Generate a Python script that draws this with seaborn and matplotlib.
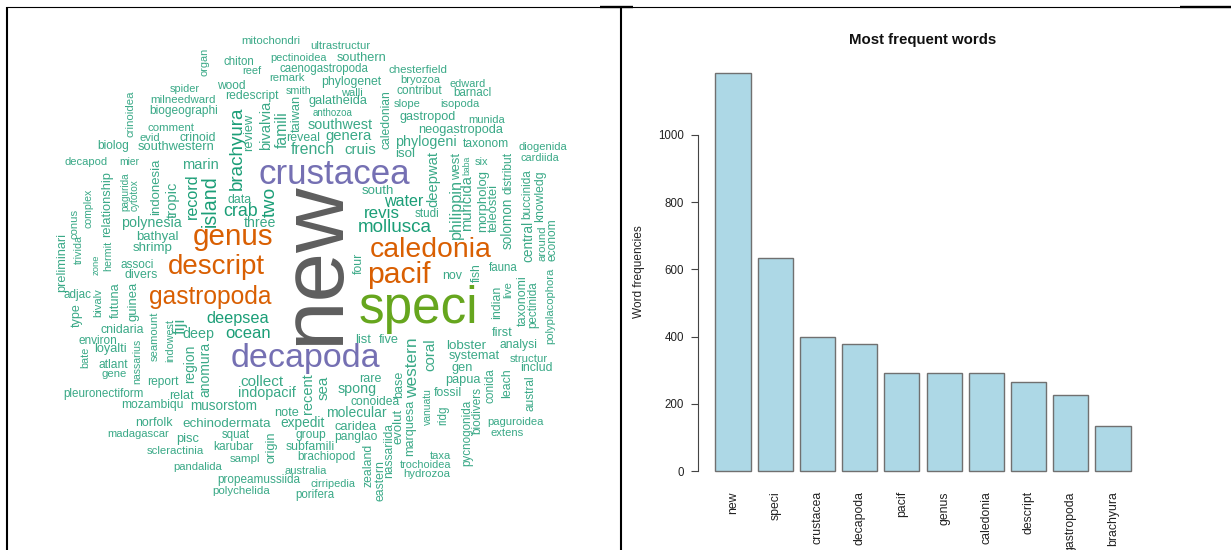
# Word cloud and bar chart of the most frequent words in the titles.

import matplotlib
matplotlib.use('Agg')
import matplotlib.pyplot as plt
from matplotlib.lines import Line2D
from matplotlib.textpath import TextPath
from matplotlib.font_manager import FontProperties
import seaborn as sns
import pandas as pd

# Ten most frequent words (bar chart).
bar_words = ['new', 'speci', 'crustacea', 'decapoda', 'pacif', 'genus',
             'caledonia', 'descript', 'gastropoda', 'brachyura']
bar_freqs = [1185, 633, 398, 378, 293, 292, 291, 265, 226, 134]

# Second tier of the cloud (darker teal).
medium_words = ['brachyura', 'record', 'island', 'crab', 'two', 'water',
                'revis', 'mollusca', 'deepsea', 'ocean']

# Word cloud layout: word, centre x, centre y (pixels), ink length, rotation.
cloud_layout = [
    ('mitochondri', 271, 41, 66, 0), ('ultrastructur', 340, 46, 67, 0),
    ('organ', 204, 62, 26, 90), ('chiton', 239, 62, 34, 0),
    ('pectinoidea', 299, 58, 64, 0), ('southern', 362, 58, 56, 0),
    ('reef', 252, 71, 21, 0), ('caenogastropoda', 324, 69, 102, 0),
    ('chesterfield', 418, 70, 66, 0), ('remark', 287, 78, 40, 0),
    ('phylogenet', 351, 82, 68, 0), ('bryozoa', 420, 80, 45, 0),
    ('edward', 468, 84, 40, 0), ('spider', 185, 89, 34, 0),
    ('wood', 231, 86, 32, 0), ('smith', 299, 91, 28, 0),
    ('walli', 352, 93, 24, 0), ('contribut', 419, 91, 52, 0),
    ('barnacl', 472, 93, 42, 0), ('crinoidea', 130, 114, 44, 90),
    ('milneedward', 183, 100, 73, 0), ('redescript', 252, 96, 60, 0),
    ('galatheida', 338, 101, 67, 0), ('caledonian', 386, 120, 55, 90),
    ('slope', 407, 104, 30, 0), ('isopoda', 460, 104, 44, 0),
    ('taiwan', 297, 113, 35, 90), ('biogeographi', 184, 111, 77, 0),
    ('brachyura', 237, 148, 79, 90), ('review', 249, 132, 35, 90),
    ('bivalvia', 266, 125, 46, 90), ('famili', 282, 130, 34, 90),
    ('anthozoa', 333, 113, 46, 0), ('southwest', 340, 125, 74, 0),
    ('gastropod', 428, 117, 63, 0), ('munida', 487, 120, 41, 0),
    ('comment', 171, 128, 53, 0), ('neogastropoda', 461, 130, 97, 0),
    ('evid', 150, 138, 22, 0), ('crinoid', 198, 138, 40, 0),
    ('reveal', 303, 138, 37, 0), ('genera', 349, 136, 52, 0),
    ('phylogeni', 426, 142, 68, 0), ('taxonom', 486, 144, 52, 0),
    ('diogenida', 543, 147, 55, 0), ('biolog', 113, 146, 35, 0),
    ('southwestern', 176, 147, 87, 0), ('french', 313, 150, 49, 0),
    ('cruis', 360, 150, 35, 0), ('isol', 405, 154, 21, 0),
    ('decapod', 86, 162, 48, 0), ('mier', 129, 162, 22, 0),
    ('marin', 200, 165, 40, 0), ('deepwat', 433, 179, 53, 90),
    ('west', 457, 166, 26, 90), ('philippin', 456, 209, 55, 90),
    ('baba', 467, 165, 18, 90), ('muricida', 467, 203, 52, 90),
    ('six', 481, 162, 15, 0), ('morpholog', 483, 201, 58, 90),
    ('teleostei', 494, 208, 45, 90), ('distribut', 508, 173, 40, 90),
    ('cardiida', 540, 158, 44, 0), ('solomon', 508, 223, 48, 90),
    ('buccinida', 527, 194, 47, 90), ('knowledg', 540, 196, 48, 90),
    ('central', 528, 241, 38, 90), ('around', 543, 243, 33, 90),
    ('econom', 553, 240, 40, 90), ('crustacea', 334, 174, 172, 0),
    ('indonesia', 156, 187, 53, 90), ('pagurida', 125, 192, 37, 90),
    ('cytotox', 135, 195, 30, 90), ('relationship', 107, 204, 62, 90),
    ('complex', 89, 208, 37, 90), ('conus', 75, 224, 28, 90),
    ('tropic', 173, 200, 34, 90), ('record', 192, 196, 42, 90),
    ('island', 210, 201, 47, 90), ('data', 240, 200, 27, 0),
    ('crab', 241, 211, 38, 0), ('two', 270, 202, 28, 90),
    ('three', 260, 223, 36, 0), ('south', 378, 191, 36, 0),
    ('water', 404, 202, 45, 0), ('revis', 382, 213, 39, 0),
    ('studi', 427, 214, 27, 0), ('mollusca', 395, 227, 84, 0),
    ('polynesia', 151, 223, 68, 0), ('bathyal', 157, 237, 47, 0),
    ('shrimp', 153, 248, 45, 0), ('genus', 233, 237, 90, 0),
    ('caledonia', 431, 250, 138, 0), ('pacif', 399, 275, 71, 0),
    ('descript', 216, 267, 110, 0), ('gastropoda', 210, 297, 140, 0),
    ('preliminari', 62, 262, 55, 90), ('trivida', 79, 250, 27, 90),
    ('zone', 96, 265, 19, 90), ('hermit', 108, 256, 28, 90),
    ('associ', 137, 265, 37, 0), ('divers', 141, 275, 37, 0),
    ('new', 315, 263, 152, 90), ('speci', 418, 309, 132, 0),
    ('nov', 452, 276, 22, 0), ('four', 359, 263, 20, 90),
    ('fish', 477, 273, 17, 90), ('fauna', 503, 268, 33, 0),
    ('indian', 497, 302, 30, 90), ('live', 508, 290, 15, 90),
    ('taxonomi', 523, 301, 48, 90), ('pectinida', 533, 305, 44, 90),
    ('polyplacophora', 550, 306, 73, 90), ('first', 502, 333, 23, 0),
    ('analysi', 518, 345, 42, 0), ('structur', 529, 359, 43, 0),
    ('includ', 536, 368, 35, 0), ('adjac', 77, 295, 31, 0),
    ('type', 77, 315, 22, 90), ('bivalv', 98, 303, 27, 90),
    ('futuna', 116, 300, 34, 90), ('guinea', 134, 301, 37, 90),
    ('cnidaria', 122, 330, 49, 0), ('seamount', 155, 336, 47, 90),
    ('indowest', 170, 340, 40, 90), ('fiji', 180, 326, 14, 90),
    ('deepsea', 238, 318, 71, 0), ('deep', 198, 334, 35, 0),
    ('ocean', 248, 333, 50, 0), ('environ', 98, 341, 43, 0),
    ('loyalti', 110, 349, 35, 0), ('bate', 85, 357, 19, 90),
    ('nassarius', 137, 361, 42, 90), ('region', 190, 364, 35, 90),
    ('anomura', 205, 369, 52, 90), ('atlant', 113, 365, 33, 0),
    ('gene', 114, 374, 28, 0), ('decapoda', 305, 358, 170, 0),
    ('list', 363, 340, 17, 0), ('five', 389, 340, 22, 0),
    ('western', 413, 368, 57, 90), ('coral', 430, 355, 30, 90),
    ('lobster', 466, 346, 45, 0), ('systemat', 474, 356, 58, 0),
    ('gen', 462, 368, 23, 0), ('report', 163, 382, 35, 0),
    ('collect', 262, 382, 49, 0), ('recent', 308, 394, 38, 90),
    ('sea', 324, 388, 23, 90), ('rare', 370, 379, 24, 0),
    ('base', 399, 384, 25, 90), ('papua', 463, 380, 40, 0),
    ('conida', 491, 386, 33, 90), ('leach', 507, 383, 27, 90),
    ('austral', 530, 393, 33, 90), ('pleuronectiform', 103, 394, 90, 0),
    ('relat', 181, 396, 27, 0), ('indopacif', 267, 393, 65, 0),
    ('spong', 357, 389, 43, 0), ('vanuatu', 428, 407, 35, 90),
    ('fossil', 448, 393, 31, 0), ('mozambiqu', 152, 405, 70, 0),
    ('musorstom', 224, 406, 75, 0), ('conoidea', 375, 402, 56, 0),
    ('evolut', 399, 426, 33, 90), ('marquesa', 410, 428, 53, 90),
    ('ridg', 443, 415, 17, 90), ('pycnogonida', 467, 433, 63, 90),
    ('biodivers', 477, 410, 44, 90), ('note', 287, 413, 27, 0),
    ('molecular', 356, 413, 68, 0), ('paguroidea', 515, 422, 64, 0),
    ('extens', 507, 433, 37, 0), ('norfolk', 154, 423, 42, 0),
    ('echinodermata', 227, 424, 101, 0), ('expedit', 303, 423, 50, 0),
    ('caridea', 356, 427, 48, 0), ('madagascar', 138, 434, 70, 0),
    ('group', 311, 435, 34, 0), ('panglao', 356, 437, 48, 0),
    ('pisc', 188, 439, 25, 0), ('squat', 236, 435, 32, 0),
    ('origin', 272, 447, 29, 90), ('subfamili', 310, 447, 54, 0),
    ('scleractinia', 175, 451, 65, 0), ('karubar', 233, 447, 45, 0),
    ('sampl', 245, 459, 34, 0), ('brachiopod', 326, 457, 65, 0),
    ('zealand', 368, 465, 40, 90), ('eastern', 380, 481, 38, 90),
    ('nassariida', 389, 451, 52, 90), ('taxa', 440, 456, 24, 0),
    ('trochoidea', 426, 465, 58, 0), ('hydrozoa', 427, 474, 53, 0),
    ('pandalida', 198, 467, 55, 0), ('australia', 306, 471, 48, 0),
    ('propeamussiida', 259, 480, 95, 0), ('cirripedia', 333, 484, 51, 0),
    ('polychelida', 241, 491, 65, 0), ('porifera', 315, 495, 44, 0),
]

# The cloud in the reference is stretched sideways a little, so
# flat words are drawn a bit smaller and upright ones a bit larger.
FLAT_SCALE = 0.87
UPRIGHT_SCALE = 1.04

# Fonts.
sns.set_theme(style='white')
plt.rcParams['font.family'] = ['Liberation Sans', 'DejaVu Sans']
font = FontProperties(family='Liberation Sans')

W, H = 1231, 550
fig = plt.figure(figsize=(W / 100, H / 100), dpi=100)
fig.patch.set_facecolor('white')

# Pixel axis for the word cloud and the frame lines.
cloud = fig.add_axes([0, 0, 1, 1])
cloud.set_xlim(0, W)
cloud.set_ylim(H, 0)
cloud.axis('off')

freq_of = dict(zip(bar_words, bar_freqs))


def word_colour(word):
    freq = freq_of.get(word)
    if freq is None or freq < 200:
        return '#1B9E77' if word in medium_words else '#3aa987'
    if freq >= 1000:
        return '#5e5e5e'
    if freq >= 500:
        return '#66A61E'
    if freq >= 350:
        return '#7570B3'
    return '#D95F02'


def size_for(word, length_px):
    # font size (pt) so that the ink of the word is length_px long
    ink = TextPath((0, 0), word, size=10, prop=font).get_extents().width
    return length_px * 10 / ink * 72 / 100


for word, x, y, length, rot in cloud_layout:
    scale = UPRIGHT_SCALE if rot else FLAT_SCALE
    cloud.text(x, y, word, rotation=rot, ha='center', va='center',
               fontsize=size_for(word, length) * scale,
               color=word_colour(word), family='Liberation Sans')

# Frame lines round the two panels.
frame = [((6, W), (7, 7), 0.8), ((600, 633), (7, 7), 1.7),
         ((1180, W), (7, 7), 1.7), ((7, 7), (7, H), 1.5),
         ((621, 621), (7, H), 1.5)]
for xs, ys, lw in frame:
    cloud.add_line(Line2D(xs, ys, color='black', linewidth=lw,
                          clip_on=False, solid_capstyle='butt'))

# Bar chart of the most frequent words.
ax = fig.add_axes([698 / W, 1 - 487 / H, 450 / W, 430 / H])
ax.patch.set_alpha(0)
bars = pd.DataFrame({'word': bar_words, 'freq': bar_freqs})
sns.barplot(data=bars, x='word', y='freq', color='#ADD8E6', saturation=1,
            edgecolor='#707070', linewidth=1, width=0.833, ax=ax)
ax.set_xlim(-0.83, 9.83)
ax.set_ylim(-47, 1232)
for side in ['top', 'right', 'bottom']:
    ax.spines[side].set_visible(False)
ax.spines['left'].set_bounds(0, 1000)
ax.spines['left'].set_color('#444444')
ax.spines['left'].set_linewidth(0.8)
ax.set_yticks(range(0, 1001, 200))
ax.tick_params(axis='y', direction='out', length=5, width=0.8,
               color='#444444', labelsize=8.3, labelcolor='#222222', pad=5,
               left=True)
ax.set_xticks(range(len(bar_words)))
ax.set_xticklabels(bar_words, rotation=90, fontsize=8.8, color='#222222')
ax.tick_params(axis='x', length=0, pad=3)
ax.set_xlabel('')
ax.set_ylabel('Word frequencies', fontsize=8.6, color='#222222')
ax.yaxis.set_label_coords(-0.118, 0.5)
ax.text(0.5, 1.0395, 'Most frequent words', transform=ax.transAxes,
        ha='center', va='center', fontsize=10.8, fontweight='bold',
        color='#111111')

fig.savefig('out.png', dpi=100)
